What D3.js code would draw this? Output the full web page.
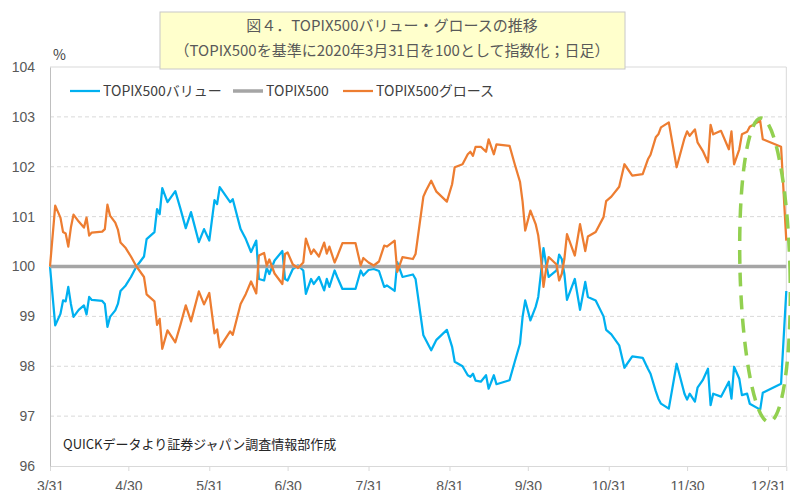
<!DOCTYPE html>
<html>
<head>
<meta charset="utf-8">
<script src="https://cdn.jsdelivr.net/npm/d3@7"></script>
<style>
  body { margin: 0; background: #fff; }
  svg { display: block; font-family: "Noto Sans CJK JP", "Noto Sans", sans-serif; }
</style>
</head>
<body>
<script>
// dates (M/D, Jan = 2021) and index values
var dates = ["3/31","4/2","4/4","4/5","4/6","4/7","4/8","4/9","4/11","4/13","4/14","4/15","4/16","4/20","4/21","4/22","4/23","4/25","4/26","4/27","4/29",
  "5/1","5/3","5/6","5/7","5/10","5/11","5/12","5/13","5/15","5/18","5/20","5/22","5/24","5/27","5/29","5/31",
  "6/2","6/3","6/4","6/8","6/9","6/12","6/14","6/16","6/18","6/19","6/21","6/22","6/23","6/25","6/28","6/29","6/30",
  "7/2","7/4","7/6","7/7","7/9","7/10","7/12","7/14","7/15","7/16","7/18","7/19","7/21","7/26","7/28","7/29","7/31",
  "8/2","8/4","8/6","8/7","8/10","8/11","8/13","8/17","8/18","8/21","8/22","8/24","8/26","8/30",
  "9/1","9/2","9/5","9/7","9/8","9/9","9/10","9/12","9/14","9/15","9/17","9/18","9/23","9/25","9/27","9/28","9/29",
  "10/1","10/3","10/4","10/5","10/6","10/7","10/8","10/11","10/12","10/13","10/14","10/15","10/18","10/20","10/22","10/23","10/26","10/29","10/30",
  "11/1","11/4","11/6","11/9","11/13","11/15","11/16","11/18","11/19","11/20","11/23","11/26","11/29","11/30",
  "12/1","12/3","12/4","12/6","12/8","12/9","12/10","12/13","12/16","12/17","12/18","12/20","12/21","12/23","12/24","12/28","12/29",
  "1/5","1/7"];

var valueSeries = [100.00,98.82,99.05,99.32,99.30,99.59,99.25,98.99,99.13,99.22,99.04,99.39,99.33,99.31,99.25,98.79,98.99,99.12,99.25,99.51,99.62,
  99.79,99.99,100.20,100.55,100.69,101.15,101.05,101.57,101.29,101.51,101.15,100.77,101.09,100.49,100.75,100.52,
  101.33,101.25,101.59,101.29,101.35,100.75,100.55,100.29,100.52,99.75,99.72,99.97,99.85,100.12,100.31,99.75,99.72,
  99.95,100.02,99.92,99.45,99.75,99.65,99.79,99.52,99.75,99.59,99.92,99.79,99.55,99.55,99.92,99.82,99.93,
  99.95,99.91,99.59,99.62,99.51,100.09,99.79,99.84,99.75,98.62,98.52,98.32,98.53,98.73,
  98.39,98.09,98.00,97.82,97.79,97.85,97.71,97.69,97.82,97.55,97.82,97.64,97.72,98.09,98.45,98.99,99.32,
  98.92,99.19,99.39,99.85,100.37,100.05,99.79,99.92,100.24,100.15,99.85,99.33,99.75,99.13,99.69,99.39,99.32,99.00,98.73,
  98.64,98.42,97.97,98.20,98.17,97.95,97.85,97.50,97.35,97.25,97.15,98.05,97.45,97.33,
  97.45,97.29,97.57,97.72,97.95,97.22,97.45,97.39,97.69,97.35,97.99,97.75,97.42,97.45,97.25,97.13,97.47,
  97.65,99.51];

var growthSeries = [100.00,101.22,100.98,100.69,100.66,100.40,100.78,101.04,100.90,100.78,100.98,100.62,100.68,100.70,100.75,101.24,101.02,100.88,100.74,100.48,100.37,
  100.20,100.01,99.79,99.44,99.30,98.83,98.95,98.35,98.72,98.48,98.84,99.22,98.90,99.50,99.24,99.47,
  98.66,98.74,98.38,98.70,98.63,99.25,99.45,99.70,99.46,100.22,100.27,100.02,100.14,99.86,99.65,100.25,100.28,
  100.04,99.97,100.08,100.56,100.25,100.34,100.20,100.48,100.26,100.40,100.08,100.20,100.47,100.47,100.02,100.17,100.08,
  100.02,100.10,100.42,100.40,100.52,99.89,100.19,100.15,100.25,101.40,101.52,101.72,101.50,101.30,
  101.65,101.99,102.05,102.25,102.30,102.22,102.40,102.40,102.30,102.55,102.25,102.45,102.42,102.05,101.70,101.30,100.72,
  101.12,100.85,100.62,100.19,99.59,99.95,100.19,100.04,99.72,99.85,100.15,100.65,100.22,100.85,100.31,100.60,100.69,100.99,101.31,
  101.40,101.60,102.05,101.82,101.85,102.15,102.24,102.59,102.65,102.79,102.89,101.99,102.57,102.71,
  102.62,102.75,102.49,102.32,102.09,102.84,102.65,102.72,102.35,102.71,102.05,102.35,102.65,102.70,102.80,102.92,102.55,
  102.40,100.52];

var topixDates = ["3/31", "1/7"];
var topixSeries = [100, 100];

var yTicks = [96, 97, 98, 99, 100, 101, 102, 103, 104];
var xTickDates = ["3/31","4/30","5/31","6/30","7/31","8/31","9/30","10/31","11/30","12/31"];

var seriesNames = ["TOPIX500バリュー", "TOPIX500", "TOPIX500グロース"];
var seriesColors = ["#00B0F0", "#A5A5A5", "#ED7D31"];

var titleLines = ["図４．TOPIX500バリュー・グロースの推移", "（TOPIX500を基準に2020年3月31日を100として指数化；日足）"];
var sourceNote = "QUICKデータより証券ジャパン調査情報部作成";

function parseMD(s) {
  var p = s.split("/");
  var m = +p[0];
  return new Date(m < 3 ? 2021 : 2020, m - 1, +p[1]);
}

var width = 790, height = 490;
var plotLeft = 50, plotRight = 786.3, plotTop = 67, plotBottom = 466;

var svg = d3.select("body").append("svg")
  .attr("width", width)
  .attr("height", height);

var x = d3.scaleTime()
  .domain([parseMD("3/31"), parseMD("1/7")])
  .range([plotLeft, plotRight]);

var y = d3.scaleLinear()
  .domain([96, 104])
  .range([plotBottom, plotTop]);

// gridlines
svg.append("g")
  .selectAll("line")
  .data(yTicks.filter(d => d > 96 && d < 104))
  .enter().append("line")
    .attr("x1", plotLeft).attr("x2", plotRight)
    .attr("y1", d => y(d)).attr("y2", d => y(d))
    .attr("stroke", "#d9d9d9")
    .attr("stroke-dasharray", "4,3");

// plot border (top / right)
svg.append("path")
  .attr("d", "M" + plotLeft + "," + plotTop + "H" + plotRight + "V" + plotBottom)
  .attr("fill", "none")
  .attr("stroke", "#d9d9d9");

// x axis
var xAxis = svg.append("g")
  .attr("transform", "translate(0," + plotBottom + ")")
  .call(d3.axisBottom(x)
    .tickValues(xTickDates.map(parseMD))
    .tickFormat((d, i) => xTickDates[i])
    .tickSize(5)
    .tickPadding(10));
xAxis.select(".domain").attr("stroke", "#d9d9d9");
xAxis.selectAll(".tick line").attr("stroke", "#d9d9d9");
xAxis.selectAll("text").attr("fill", "#595959").style("font-size", "14px");

// y axis
var yAxis = svg.append("g")
  .attr("transform", "translate(" + plotLeft + ",0)")
  .call(d3.axisLeft(y).tickValues(yTicks).tickSize(0).tickPadding(15));
yAxis.select(".domain").attr("stroke", "#bfbfbf");
yAxis.selectAll("text").attr("fill", "#595959").style("font-size", "14px");

svg.append("text")
  .attr("x", 53).attr("y", 60)
  .attr("fill", "#404040")
  .style("font-size", "14px")
  .text("%");

// series lines, in Excel order
var line = d3.line()
  .x(d => x(d[0]))
  .y(d => y(d[1]));

var seriesData = [
  dates.map((d, i) => [parseMD(d), valueSeries[i]]),
  topixDates.map((d, i) => [parseMD(d), topixSeries[i]]),
  dates.map((d, i) => [parseMD(d), growthSeries[i]])
];
var seriesWidths = [2.25, 3.5, 2.25];

seriesData.forEach(function(data, i) {
  svg.append("path")
    .datum(data)
    .attr("fill", "none")
    .attr("stroke", seriesColors[i])
    .attr("stroke-width", seriesWidths[i])
    .attr("stroke-linejoin", "round")
    .attr("d", line);
});

// legend
var legendX = [70, 233, 343];
seriesNames.forEach(function(name, i) {
  var g = svg.append("g").attr("transform", "translate(" + legendX[i] + ",91)");
  g.append("line")
    .attr("x1", 0).attr("x2", 30)
    .attr("stroke", seriesColors[i])
    .attr("stroke-width", seriesWidths[i]);
  g.append("text")
    .attr("x", 33).attr("y", 5)
    .attr("fill", "#404040")
    .style("font-size", "14px")
    .text(name);
});

// source note
svg.append("text")
  .attr("x", 63).attr("y", 449)
  .attr("fill", "#262626")
  .style("font-size", "13px")
  .text(sourceNote);

// highlight ellipse
svg.append("ellipse")
  .attr("cx", 765).attr("cy", 270)
  .attr("rx", 25).attr("ry", 152)
  .attr("transform", "rotate(-1.5,765,270)")
  .attr("fill", "none")
  .attr("stroke", "#92D050")
  .attr("stroke-width", 3.5)
  .attr("stroke-dasharray", "14,9");

// title box
svg.append("rect")
  .attr("x", 160).attr("y", 12)
  .attr("width", 465).attr("height", 57)
  .attr("fill", "#FFFFCC")
  .attr("stroke", "#c8c8c8");

titleLines.forEach(function(t, i) {
  svg.append("text")
    .attr("x", 392).attr("y", 31 + i * 25)
    .attr("text-anchor", "middle")
    .attr("fill", "#595959")
    .style("font-size", "15px")
    .text(t);
});
</script>
</body>
</html>
